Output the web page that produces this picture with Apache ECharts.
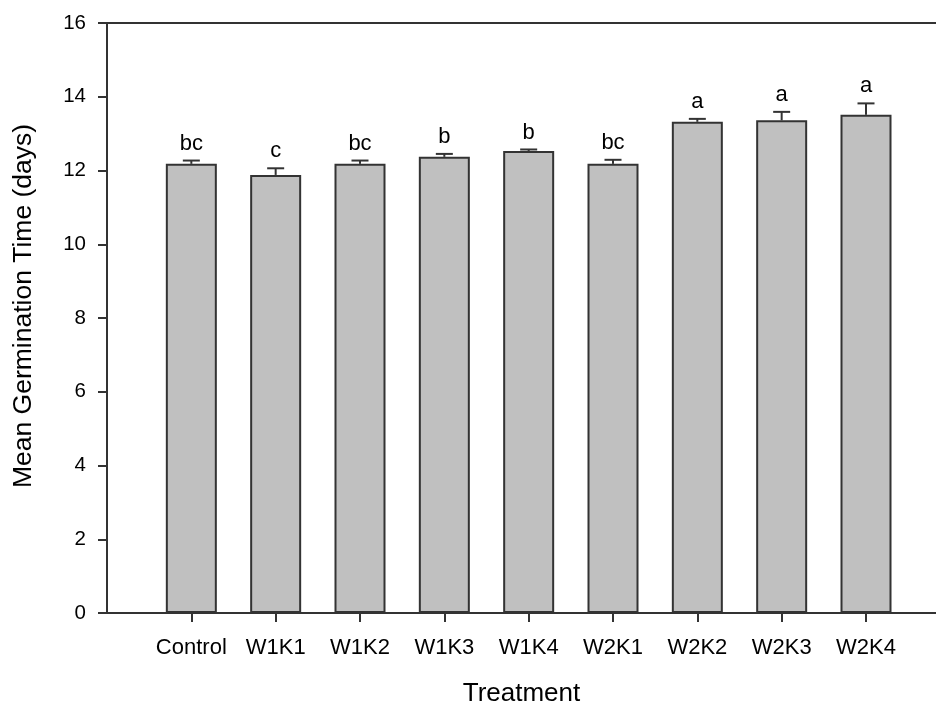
<!DOCTYPE html>
<html>
<head>
<meta charset="utf-8">
<script src="https://cdn.jsdelivr.net/npm/echarts@6/dist/echarts.min.js"></script>
<style>
  html, body { margin: 0; padding: 0; background: #fff; }
  #chart { width: 936px; height: 706px; }
</style>
</head>
<body>
<div id="chart"></div>
<script>
// Treatments along the x axis
const categories = ['Control', 'W1K1', 'W1K2', 'W1K3', 'W1K4', 'W2K1', 'W2K2', 'W2K3', 'W2K4'];
// Mean germination time (days) and its standard error
const means  = [12.18, 11.88, 12.18, 12.37, 12.53, 12.18, 13.32, 13.36, 13.51];
const errors = [0.09, 0.18, 0.09, 0.08, 0.04, 0.11, 0.08, 0.23, 0.31];
// Significance groups shown above each bar
const letters = ['bc', 'c', 'bc', 'b', 'b', 'bc', 'a', 'a', 'a'];
// Y axis ticks
const yTicks = [0, 2, 4, 6, 8, 10, 12, 14, 16];

const FONT = '"Liberation Sans", Arial, sans-serif';
const INK = '#333';

const positions = categories.map((_, i) => i + 1);
const barData = positions.map((x, i) => [x, means[i]]);
const errData = positions.map((x, i) => [x, means[i], errors[i], letters[i]]);

const chart = echarts.init(document.getElementById('chart'), null, { renderer: 'canvas' });

chart.setOption({
  backgroundColor: '#fff',
  animation: false,
  grid: { left: 107, right: 0, top: 23, bottom: 93, containLabel: false, outerBoundsMode: 'none' },
  xAxis: [{
    type: 'value',
    min: 0,
    max: 9.83,
    name: 'Treatment',
    nameLocation: 'middle',
    nameGap: 68,
    nameTextStyle: { fontFamily: FONT, fontSize: 26, color: '#000' },
    axisLine: { show: true, lineStyle: { color: INK, width: 2 } },
    axisTick: { show: true, customValues: positions, length: 9, lineStyle: { color: INK, width: 2 } },
    axisLabel: {
      customValues: positions,
      formatter: v => categories[Math.round(v) - 1] || '',
      margin: 24,
      fontFamily: FONT, fontSize: 22, color: '#000'
    },
    splitLine: { show: false }
  }, {
    // upper frame line
    type: 'value',
    position: 'top',
    min: 0,
    max: 9.83,
    axisLine: { show: true, lineStyle: { color: INK, width: 2 } },
    axisTick: { show: false },
    axisLabel: { show: false },
    splitLine: { show: false }
  }],
  yAxis: {
    type: 'value',
    min: yTicks[0],
    max: yTicks[yTicks.length - 1],
    interval: 2,
    name: 'Mean Germination Time (days)',
    nameLocation: 'middle',
    nameGap: 70,
    nameTextStyle: { fontFamily: FONT, fontSize: 26.5, color: '#000', padding: [0, 0, 0, 24] },
    axisLine: { show: true, lineStyle: { color: INK, width: 2 } },
    axisTick: { show: true, length: 9, lineStyle: { color: INK, width: 2 } },
    axisLabel: { margin: 21, fontFamily: FONT, fontSize: 20.5, color: '#000' },
    splitLine: { show: false }
  },
  series: [{
    type: 'bar',
    xAxisIndex: 0,
    data: barData,
    barWidth: 51,
    itemStyle: { color: '#c0c0c0', borderColor: INK, borderWidth: 2 },
    z: 2
  }, {
    type: 'custom',
    xAxisIndex: 0,
    data: errData,
    z: 3,
    renderItem: function (params, api) {
      const x = api.value(0);
      const m = api.value(1);
      const se = api.value(2);
      const letter = letters[params.dataIndex];
      const base = api.coord([x, m]);
      const top = api.coord([x, m + se]);
      const half = 8.5;
      const style = { stroke: INK, lineWidth: 2 };
      return {
        type: 'group',
        children: [
          { type: 'line', shape: { x1: base[0], y1: base[1], x2: top[0], y2: top[1] }, style },
          { type: 'line', shape: { x1: top[0] - half, y1: top[1], x2: top[0] + half, y2: top[1] }, style },
          {
            type: 'text',
            x: top[0],
            y: top[1] - 6,
            style: {
              text: letter,
              fill: '#000',
              font: '22px ' + FONT,
              textAlign: 'center',
              textVerticalAlign: 'bottom'
            }
          }
        ]
      };
    }
  }]
});
</script>
</body>
</html>
